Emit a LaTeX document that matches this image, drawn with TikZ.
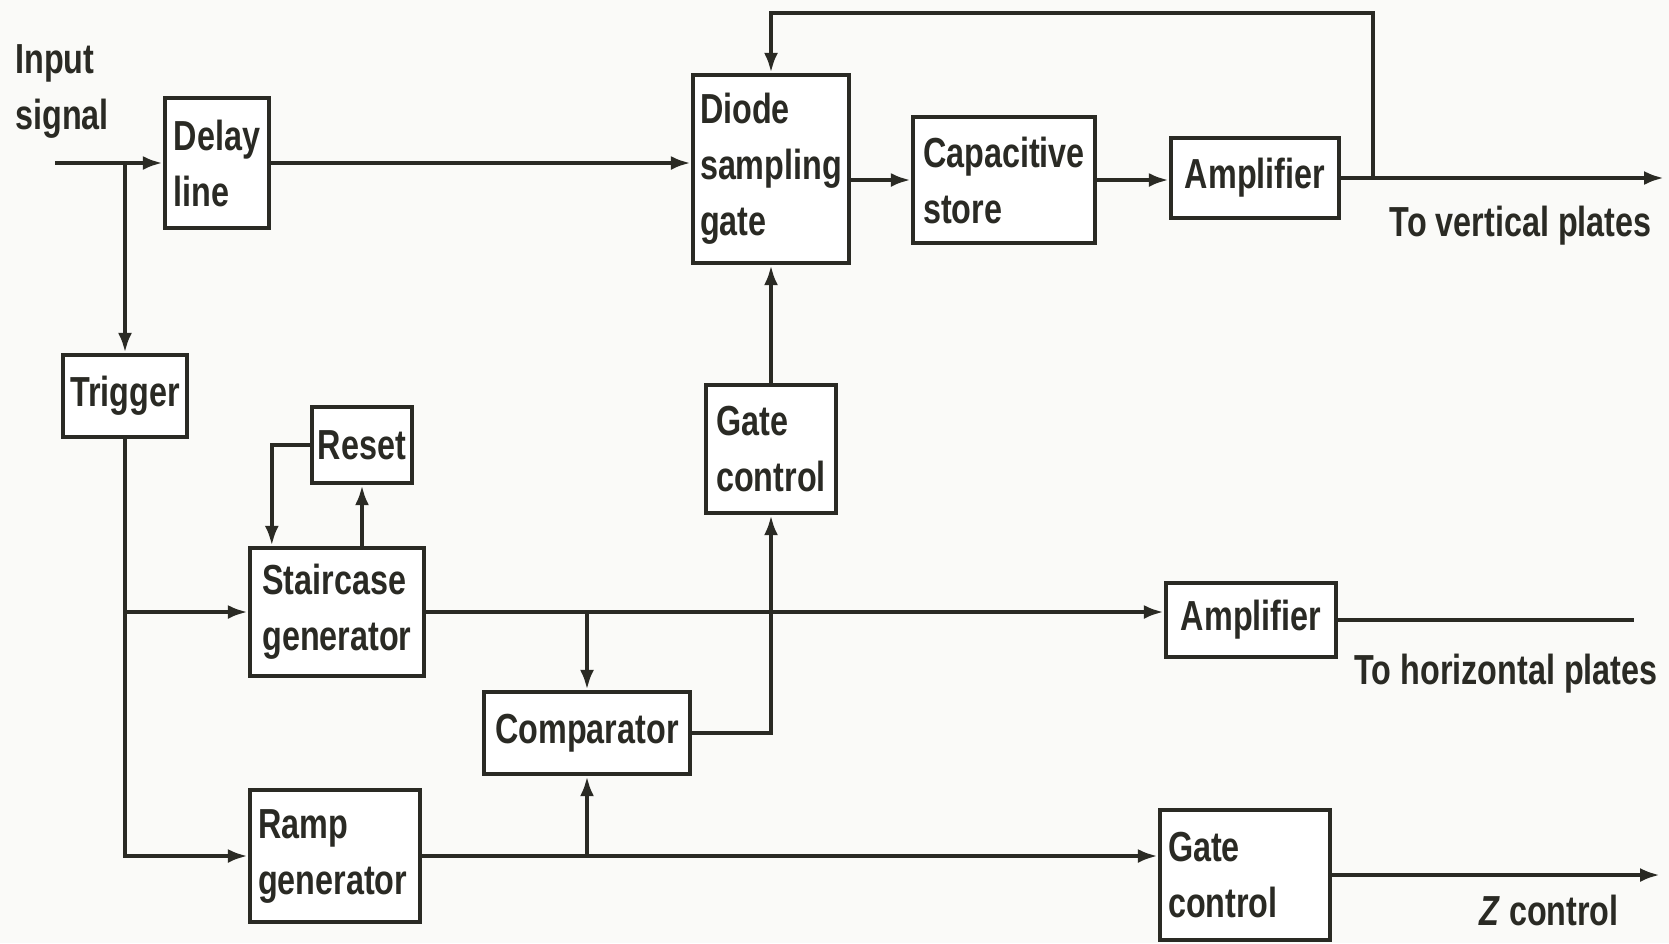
\documentclass[tikz,border=0pt]{standalone}
\usepackage{fontspec}
\setmainfont{Liberation Sans}[FakeStretch=0.77]
\usetikzlibrary{arrows.meta}
\definecolor{ink}{HTML}{2A2A24}
\definecolor{paper}{HTML}{FAFAF8}

\begin{document}
\begin{tikzpicture}[x=0.5pt,y=-0.5pt,
  txt/.style={font=\fontsize{21}{28}\selectfont\bfseries,text=ink,align=left,inner sep=0pt},
  blk/.style={txt,draw=ink,line width=2.2pt,fill=white,inner xsep=3pt},
  wire/.style={draw=ink,line width=2.2pt},
  arr/.style={wire,-{Latex[length=10pt,width=7pt]}}]
\fill[paper] (0,0) rectangle (1669,943);
\useasboundingbox (0,0) rectangle (1669,943);
% blocks
\node[blk,minimum width=52pt,minimum height=65pt] (delay) at (217,163) {Delay\\line};
\node[blk,minimum width=62pt,minimum height=41pt] (trigger) at (125,396) {Trigger};
\node[blk,minimum width=78pt,minimum height=94pt] (diode) at (771,169) {Diode\\sampling\\gate};
\node[blk,minimum width=91pt,minimum height=63pt] (cap) at (1004,180) {Capacitive\\store};
\node[blk,minimum width=84pt,minimum height=40pt] (amp) at (1255,178) {Amplifier};
\node[blk,minimum width=65pt,minimum height=64pt] (gatea) at (771,449) {Gate\\control};
\node[blk,minimum width=50pt,minimum height=38pt] (reset) at (362,445) {Reset};
\node[blk,minimum width=87pt,minimum height=64pt] (stair) at (337,612) {Staircase\\generator};
\node[blk,minimum width=103pt,minimum height=41pt] (comp) at (587,733) {Comparator};
\node[blk,minimum width=85pt,minimum height=66pt,text width=77pt] (ramp) at (335,856) {Ramp\\generator};
\node[blk,minimum width=85pt,minimum height=37pt] (ampb) at (1251,620) {Amplifier};
\node[blk,minimum width=85pt,minimum height=65pt,text width=77pt] (gateb) at (1245,875) {Gate\\control};
% labels
\node[txt,anchor=west] (insig) at (15,91) {Input\\signal};
\node[txt,anchor=east] (vlab) at (1652,226) {To vertical plates};
\node[txt,anchor=west] (hlab) at (1354,674) {To horizontal plates};
\node[txt] (zlab) at (1549,910) {\textit{Z} control};
\coordinate (in) at (55,163);
\coordinate (fb) at (1373,178);
\coordinate (fbtop) at (771,13);
\coordinate (vout) at (1664,178);
\coordinate (hout) at (1634,620);
\coordinate (zout) at (1660,875);
% signal path
\draw[arr] (in) -- (delay.west);
\draw[arr] (delay.east) -- (delay.east -| diode.west);
\draw[arr] (diode.east |- cap.west) -- (cap.west);
\draw[arr] (cap.east) -- (cap.east -| amp.west);
\draw[arr] (amp.east) -- (vout);
\draw[arr] (fb) |- (fbtop) -- (diode.north);
\draw[arr] (gatea.north) -- (diode.south);
\draw[arr] (comp.east) -| (gatea.south);
% trigger and sweep
\draw[arr] (in -| trigger.north) -- (trigger.north);
\draw[arr] (trigger.south) |- (ramp.west);
\draw[arr] (trigger.south |- stair.west) -- (stair.west);
\draw[arr] (reset.west) -| ([xshift=12pt]stair.north west);
\draw[arr] (reset.south |- stair.north) -- (reset.south);
\draw[arr] (stair.east) -- (stair.east -| ampb.west);
\draw[arr] (comp.north |- stair.east) -- (comp.north);
\draw[arr] (ramp.east) -- (ramp.east -| gateb.west);
\draw[arr] (comp.south |- ramp.east) -- (comp.south);
\draw[wire] (ampb.east) -- (hout);
\draw[arr] (gateb.east) -- (zout);
\end{tikzpicture}
\end{document}
